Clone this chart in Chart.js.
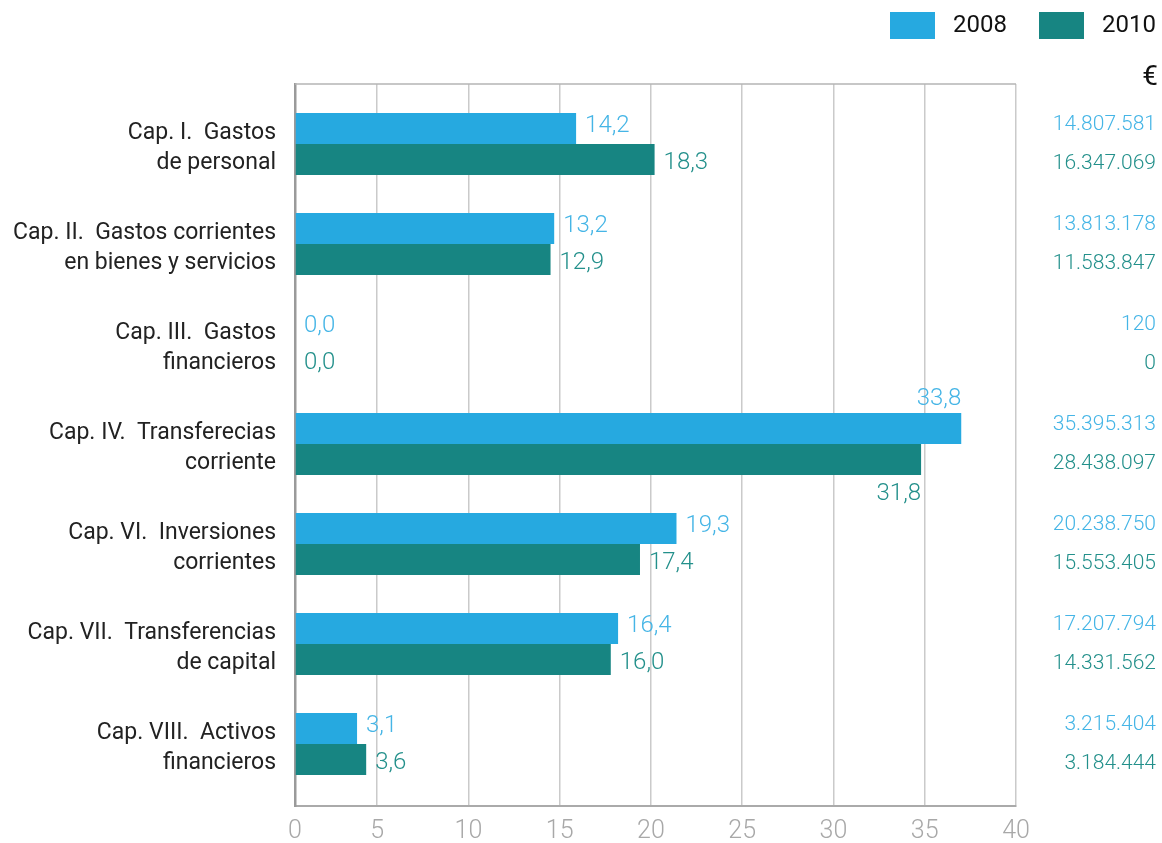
<!DOCTYPE html>
<html>
<head>
<meta charset="utf-8">
<title>Gastos 2008 - 2010</title>
<script src="https://cdn.jsdelivr.net/npm/chart.js@4.4.1/dist/chart.umd.min.js"></script>
<style>
    html, body { margin: 0; padding: 0; background: #fff; }
    #wrap { width: 1162px; height: 843px; position: relative; }
</style>
</head>
<body>
<div id="wrap"><canvas id="gastos"></canvas></div>
<script>
    "use strict";

    // Data
    var categories = [
        ['Cap. I.  Gastos', 'de personal'],
        ['Cap. II.  Gastos corrientes', 'en bienes y servicios'],
        ['Cap. III.  Gastos', 'financieros'],
        ['Cap. IV.  Transferecias', 'corriente'],
        ['Cap. VI.  Inversiones', 'corrientes'],
        ['Cap. VII.  Transferencias', 'de capital'],
        ['Cap. VIII.  Activos', 'financieros']
    ];
    var seriesNames = ['2008', '2010'];

    // bar lengths as drawn in the picture
    var bars2008 = [15.9, 14.7, 0, 37.0, 21.4, 18.2, 3.9];
    var bars2010 = [20.2, 14.5, 0, 34.8, 19.4, 17.8, 4.4];

    // printed labels next to the bars
    var labels2008 = ['14,2', '13,2', '0,0', '33,8', '19,3', '16,4', '3,1'];
    var labels2010 = ['18,3', '12,9', '0,0', '31,8', '17,4', '16,0', '3,6'];

    // amounts in euros, right column
    var euros2008 = ['14.807.581', '13.813.178', '120', '35.395.313', '20.238.750', '17.207.794', '3.215.404'];
    var euros2010 = ['16.347.069', '11.583.847', '0', '28.438.097', '15.553.405', '14.331.562', '3.184.444'];

    var xTicks = [0, 5, 10, 15, 20, 25, 30, 35, 40];

    var barColors = ['#26a9e0', '#178582'];
    var textColors = ['#45b5e6', '#23908b'];
    var axisStart = 0.5;   // the drawn axis sits a little right of the "0" gridline spacing

    var font = "Roboto, 'Liberation Sans', sans-serif";
    Chart.defaults.font.family = font;

    // Labels, euro column, legend and the box top
    var extras = {
        id: 'extras',
        afterDatasetsDraw: function (chart) {
            var ctx = chart.ctx;
            var area = chart.chartArea;
            var yScale = chart.scales.y;
            ctx.save();

            ctx.strokeStyle = '#b4b4b4';
            ctx.lineWidth = 1.5;
            ctx.beginPath();
            ctx.moveTo(area.left, area.top);
            ctx.lineTo(area.right, area.top);
            ctx.stroke();

            // value labels
            ctx.font = '300 24px ' + font;
            ctx.textBaseline = 'middle';
            [labels2008, labels2010].forEach(function (texts, d) {
                var meta = chart.getDatasetMeta(d);
                meta.data.forEach(function (bar, i) {
                    var end = Math.max(bar.x, area.left);
                    var w = ctx.measureText(texts[i]).width;
                    ctx.fillStyle = textColors[d];
                    if (end + 9 + w > area.right - 50) {
                        ctx.textAlign = 'right';
                        var y = d === 0 ? bar.y - bar.height / 2 - 14 : bar.y + bar.height / 2 + 19;
                        ctx.fillText(texts[i], end, y);
                    } else {
                        ctx.textAlign = 'left';
                        ctx.fillText(texts[i], end + 9, bar.y + (d === 0 ? -3 : 3));
                    }
                });
            });

            // euro column
            ctx.font = '300 21px ' + font;
            ctx.textAlign = 'right';
            categories.forEach(function (c, i) {
                var y = yScale.getPixelForValue(i);
                ctx.fillStyle = textColors[0];
                ctx.fillText(euros2008[i], chart.width - 6, y - 19);
                ctx.fillStyle = textColors[1];
                ctx.fillText(euros2010[i], chart.width - 6, y + 20);
            });
            ctx.fillStyle = '#111';
            ctx.font = '28px ' + font;
            ctx.fillText('\u20ac', chart.width - 4, 78);

            // legend
            ctx.font = '24px ' + font;
            ctx.textAlign = 'left';
            chart.data.datasets.forEach(function (ds, d) {
                var x = chart.width - 272 + d * 149;
                ctx.fillStyle = ds.backgroundColor;
                ctx.fillRect(x, 12, 45, 27);
                ctx.fillStyle = '#111';
                ctx.fillText(ds.label, x + 63, 26);
            });

            ctx.restore();
        }
    };

    var ctx1 = document.getElementById('gastos').getContext('2d');
    var myChart1 = new Chart(ctx1, {
        type: 'bar',
        data: {
            datasets: [{
                label: seriesNames[0],
                data: bars2008.map(function (v, i) { return { x: v, y: i }; }),
                backgroundColor: barColors[0],
                base: axisStart
            },
            {
                label: seriesNames[1],
                data: bars2010.map(function (v, i) { return { x: v, y: i }; }),
                backgroundColor: barColors[1],
                base: axisStart
            }]
        },
        options: {
            indexAxis: 'y',
            responsive: true,
            maintainAspectRatio: false,
            animation: false,
            categoryPercentage: 0.62,
            barPercentage: 1.0,
            layout: { padding: { top: 84, right: 146, bottom: 0, left: 0 } },
            plugins: {
                legend: { display: false },
                tooltip: { enabled: false }
            },
            scales: {
                x: {
                    type: 'linear',
                    min: axisStart,
                    max: 40,
                    afterBuildTicks: function (s) {
                        s.ticks = xTicks.map(function (v) { return { value: v === 0 ? axisStart : v }; });
                    },
                    afterFit: function (s) {
                        s.height = 37;
                        s.paddingLeft = 0;
                        s.paddingRight = 0;
                    },
                    grid: { color: '#cacaca', lineWidth: 1.5, drawTicks: false },
                    border: { display: true, color: '#aaaaaa', width: 2 },
                    ticks: {
                        padding: 11,
                        color: '#a8a8a8',
                        font: { size: 25, weight: '300' },
                        callback: function (v) { return v === axisStart ? '0' : v; }
                    }
                },
                y: {
                    type: 'linear',
                    offset: false,
                    reverse: true,
                    min: -0.6,
                    max: 6.62,
                    afterBuildTicks: function (s) {
                        s.ticks = categories.map(function (c, i) { return { value: i }; });
                    },
                    afterFit: function (s) {
                        s.width = 295;
                        s.paddingTop = 0;
                        s.paddingBottom = 0;
                    },
                    grid: { display: false, offset: false },
                    border: { display: true, color: '#9a9a9a', width: 2.5 },
                    ticks: {
                        autoSkip: false,
                        padding: 11,
                        labelOffset: 4,
                        color: '#222',
                        font: { size: 23, lineHeight: 1.3 },
                        callback: function (v) { return categories[v]; }
                    }
                }
            }
        },
        plugins: [extras]
    });
</script>
</body>
</html>
